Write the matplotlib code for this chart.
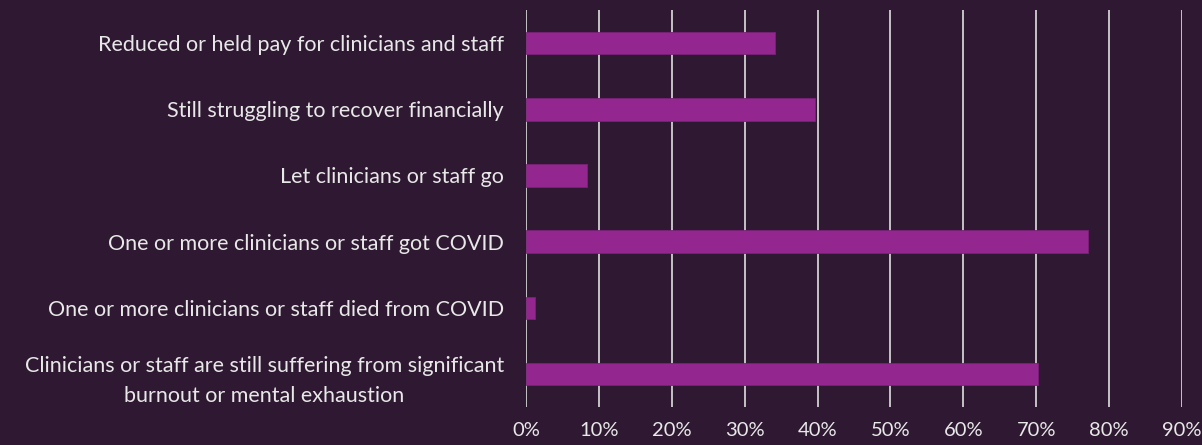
import matplotlib.pyplot as plt

categories = [
    'Reduced or held pay for clinicians and staff',
    'Still struggling to recover financially',
    'Let clinicians or staff go',
    'One or more clinicians or staff got COVID',
    'One or more clinicians or staff died from COVID',
    'Clinicians or staff are still suffering from significant\nburnout or mental exhaustion',
]
values = [34.1, 39.7, 8.4, 77.1, 1.2, 70.3]
ticks = [0, 10, 20, 30, 40, 50, 60, 70, 80, 90]

bg = '#2f1932'
bar_color = '#93278f'
text_color = '#e8e8e8'

plt.rcParams['font.family'] = ['Lato', 'DejaVu Sans']

fig = plt.figure(figsize=(12.02, 4.45), dpi=100, facecolor=bg)
ax = fig.add_axes([0.4376, 0.0854, 0.5458, 0.8921])
ax.set_facecolor(bg)

ypos = list(range(len(categories)))
ax.barh(ypos, values, height=0.34, color=bar_color, edgecolor='#7a2277', linewidth=0.6, zorder=3)
ax.set_yticks(ypos)
ax.set_yticklabels(categories, fontsize=15.5, color=text_color,
                   multialignment='center', linespacing=1.6)
ax.set_ylim(len(categories) - 0.5, -0.5)

ax.set_xlim(0, 90)
ax.set_xticks(ticks)
ax.set_xticklabels([f'{t}%' for t in ticks], fontsize=14.5, color=text_color)
ax.xaxis.grid(True, color='#d0d0d0', linewidth=1.3, zorder=0)
ax.tick_params(length=0)
ax.tick_params(axis='y', pad=16)
ax.tick_params(axis='x', pad=11)
for s in ax.spines.values():
    s.set_visible(False)

fig.savefig('out.png', dpi=100, facecolor=bg)
